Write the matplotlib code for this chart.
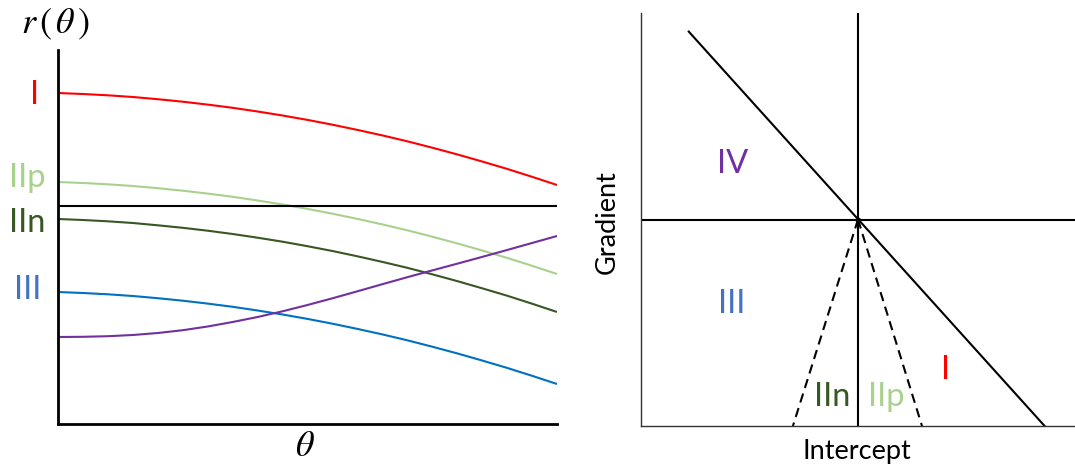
import matplotlib
matplotlib.use("Agg")
import matplotlib.pyplot as plt
import matplotlib.transforms as mtransforms

# Angle normalisé (0 = incidence normale, 1 = angle max)
theta = [0.00, 0.05, 0.10, 0.15, 0.20, 0.25, 0.30, 0.35, 0.40, 0.45, 0.50,
         0.55, 0.60, 0.65, 0.70, 0.75, 0.80, 0.85, 0.90, 0.95, 1.00]

# Coefficient de réflexion r(theta) pour chaque classe AVO
r_class_1 = [1.130, 1.120, 1.107, 1.090, 1.068, 1.043, 1.014, 0.982, 0.945, 0.905, 0.861,
             0.813, 0.761, 0.706, 0.647, 0.583, 0.516, 0.445, 0.371, 0.292, 0.210]
r_class_2p = [0.240, 0.230, 0.217, 0.200, 0.178, 0.153, 0.124, 0.092, 0.055, 0.015, -0.029,
              -0.077, -0.129, -0.184, -0.243, -0.307, -0.374, -0.445, -0.519, -0.598, -0.680]
r_class_2n = [-0.130, -0.140, -0.153, -0.170, -0.193, -0.218, -0.247, -0.280, -0.317, -0.357,
              -0.402, -0.450, -0.503, -0.559, -0.618, -0.683, -0.751, -0.823, -0.897, -0.977,
              -1.060]
r_class_3 = [-0.860, -0.870, -0.883, -0.900, -0.922, -0.947, -0.976, -1.008, -1.045, -1.085,
             -1.129, -1.177, -1.229, -1.284, -1.343, -1.407, -1.474, -1.545, -1.619, -1.698,
             -1.780]
r_class_4 = [-1.310, -1.308, -1.302, -1.290, -1.270, -1.242, -1.205, -1.160, -1.110, -1.053,
             -0.990, -0.923, -0.853, -0.782, -0.712, -0.644, -0.577, -0.509, -0.440, -0.370,
             -0.300]

class_names = ["I", "IIp", "IIn", "III", "IV"]

# Diagramme intercept / gradient : ligne de fond et limites de la classe II
background_x = [-0.78, 0.86]
background_y = [0.91, -1.0]
class2_left_x = [0.0, -0.30]
class2_right_x = [0.0, 0.295]
class2_y = [0.0, -1.0]

COLORS = {
    "I": "#ff0000",
    "IIp": "#a9d18e",
    "IIn": "#385723",
    "III": "#4472c4",
    "IV": "#7030a0",
}
CURVE_COLORS = {
    "I": "#ff0000",
    "IIp": "#a9d18e",
    "IIn": "#385723",
    "III": "#0070c0",
    "IV": "#7030a0",
}

plt.rcParams["font.family"] = ["Lato", "DejaVu Sans"]
plt.rcParams["mathtext.fontset"] = "stix"


def plot_reflectivity(fig):
    """
    Panneau de gauche : r(theta) pour chaque classe.
    """
    ax = fig.add_axes([58 / 1075, 42 / 466, 499 / 1075, 374 / 466])
    series = [r_class_1, r_class_2p, r_class_2n, r_class_3, r_class_4]
    for name, values in zip(class_names, series):
        ax.plot(theta, values, color=CURVE_COLORS[name], lw=1.5, solid_capstyle="butt")

    ax.axhline(0, color="black", lw=1.5)
    ax.set_xlim(0, 1)
    ax.set_ylim(-2.18, 1.56)
    for side in ["top", "right"]:
        ax.spines[side].set_visible(False)
    for side in ["left", "bottom"]:
        ax.spines[side].set_linewidth(2)
    ax.set_xticks([])
    ax.set_yticks([])

    # Étiquettes des classes à gauche de l'axe
    trans = mtransforms.blended_transform_factory(ax.transAxes, ax.transData)
    label_pos = {"I": (-0.046, 1.02), "IIp": (-0.062, 0.19),
                 "IIn": (-0.062, -0.26), "III": (-0.061, -0.93)}
    for name, (x, y) in label_pos.items():
        ax.text(x, y, name, transform=trans, color=COLORS[name], fontsize=23.5,
                ha="center", va="baseline")

    fig.text(55 / 1075, 1 - 24 / 466, r"$r\,(\,\theta\,)$", fontsize=26,
             ha="center", va="center")
    fig.text(305 / 1075, 1 - 445 / 466, r"$\theta$", fontsize=26,
             ha="center", va="center")


def plot_crossplot(fig):
    """
    Panneau de droite : intercept contre gradient.
    """
    ax = fig.add_axes([641 / 1075, 40 / 466, 434 / 1075, 413 / 466])
    ax.set_xlim(-1, 1)
    ax.set_ylim(-1, 1)

    ax.plot(background_x, background_y, color="black", lw=1.5)
    ax.plot(class2_left_x, class2_y, color="black", lw=1.5, ls=(0, (4.5, 2.8)))
    ax.plot(class2_right_x, class2_y, color="black", lw=1.5, ls=(0, (4.5, 2.8)))
    ax.axhline(0, color="black", lw=1.5)
    ax.axvline(0, color="black", lw=1.5)
    ax.plot([0], [0], "o", color="black", ms=3)

    for side in ["top", "right"]:
        ax.spines[side].set_visible(False)
    for side in ["left", "bottom"]:
        ax.spines[side].set_linewidth(1.0)
        ax.spines[side].set_color("#333333")
    ax.set_xticks([])
    ax.set_yticks([])

    label_pos = {"IV": (-0.58, 0.27), "III": (-0.58, -0.41),
                 "IIn": (-0.12, -0.86), "IIp": (0.13, -0.86), "I": (0.405, -0.73)}
    for name, (x, y) in label_pos.items():
        ax.text(x, y, name, color=COLORS[name], fontsize=23.5,
                ha="center", va="center")

    fig.text(607 / 1075, 1 - 222 / 466, "Gradient", fontsize=19.5,
             rotation=90, ha="center", va="center")
    fig.text(857 / 1075, 1 - 451 / 466, "Intercept", fontsize=19.5,
             ha="center", va="center")


def main():
    fig = plt.figure(figsize=(10.75, 4.66), dpi=100)
    plot_reflectivity(fig)
    plot_crossplot(fig)
    fig.savefig("out.png", dpi=100)


if __name__ == "__main__":
    main()
